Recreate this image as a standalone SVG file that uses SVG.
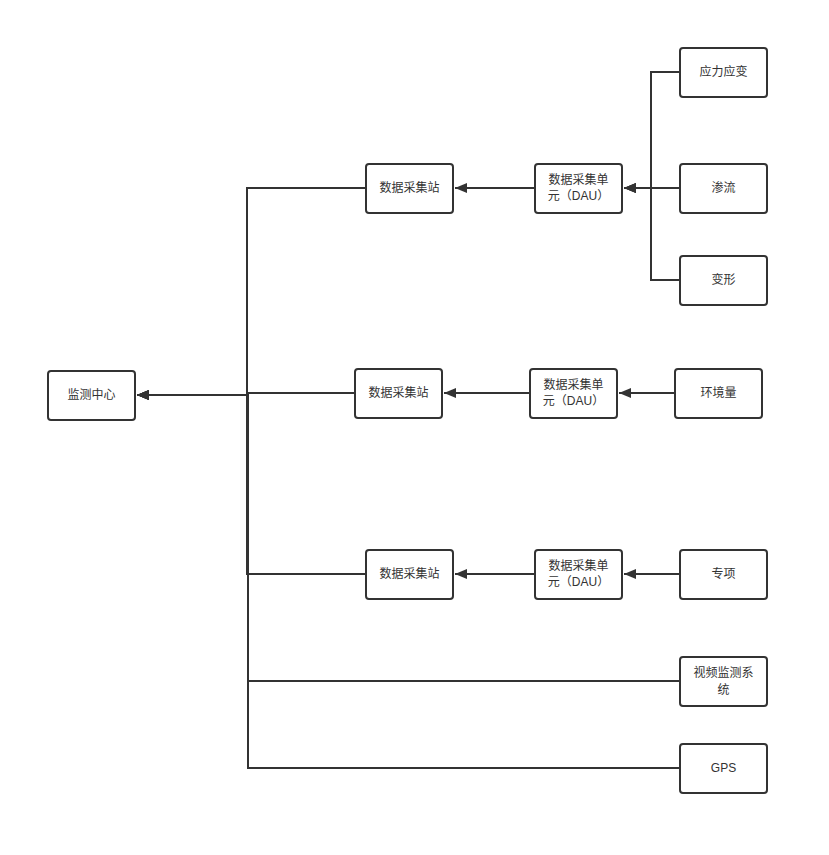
<svg xmlns="http://www.w3.org/2000/svg" width="829" height="855" viewBox="0 0 829 855">
<style>
.box{fill:#fff;stroke:#333;stroke-width:2}
.t{font-family:"Liberation Sans","Noto Sans CJK SC",sans-serif;font-size:12px;fill:#333;text-anchor:middle}
.c{fill:none;stroke:#333;stroke-width:2}
</style>
<defs>
<marker id="arr" markerWidth="12" markerHeight="10" refX="12" refY="5" orient="auto" markerUnits="userSpaceOnUse">
<path d="M0,0 L12,5 L0,10 Z" fill="#333"/>
</marker>
</defs>
<rect width="829" height="855" fill="#fff"/>
<g id="connectors">
<path class="c" d="M680,72 H651 V188 H624" marker-end="url(#arr)"/>
<path class="c" d="M680,188 H624" marker-end="url(#arr)"/>
<path class="c" d="M680,280 H651 V188 H624" marker-end="url(#arr)"/>
<path class="c" d="M535,188 H455" marker-end="url(#arr)"/>
<path class="c" d="M366,188 H247 V395 H137" marker-end="url(#arr)"/>
<path class="c" d="M675,393 H619" marker-end="url(#arr)"/>
<path class="c" d="M530,393 H444" marker-end="url(#arr)"/>
<path class="c" d="M355,393 H247 V395 H137" marker-end="url(#arr)"/>
<path class="c" d="M680,574 H624" marker-end="url(#arr)"/>
<path class="c" d="M535,574 H455" marker-end="url(#arr)"/>
<path class="c" d="M366,574 H247 V395 H137" marker-end="url(#arr)"/>
<path class="c" d="M680,681 H248 V395 H137" marker-end="url(#arr)"/>
<path class="c" d="M680,768 H248 V395 H137" marker-end="url(#arr)"/>
</g>
<g id="center"><rect class="box" x="48" y="371" width="87" height="49" rx="3"/><text class="t" x="91.5" y="399">监测中心</text></g>
<g id="station1"><rect class="box" x="366" y="164" width="87" height="49" rx="3"/><text class="t" x="409.5" y="192">数据采集站</text></g>
<g id="dau1"><rect class="box" x="535" y="164" width="87" height="49" rx="3"/><text class="t" x="578.5" y="184">数据采集单</text><text class="t" x="578.5" y="200">元（DAU）</text></g>
<g id="stress"><rect class="box" x="680" y="48" width="87" height="49" rx="3"/><text class="t" x="723.5" y="76">应力应变</text></g>
<g id="seepage"><rect class="box" x="680" y="164" width="87" height="49" rx="3"/><text class="t" x="723.5" y="192">渗流</text></g>
<g id="deform"><rect class="box" x="680" y="256" width="87" height="49" rx="3"/><text class="t" x="723.5" y="284">变形</text></g>
<g id="station2"><rect class="box" x="355" y="369" width="87" height="49" rx="3"/><text class="t" x="398.5" y="397">数据采集站</text></g>
<g id="dau2"><rect class="box" x="530" y="369" width="87" height="49" rx="3"/><text class="t" x="573.5" y="389">数据采集单</text><text class="t" x="573.5" y="405">元（DAU）</text></g>
<g id="env"><rect class="box" x="675" y="369" width="87" height="49" rx="3"/><text class="t" x="718.5" y="397">环境量</text></g>
<g id="station3"><rect class="box" x="366" y="550" width="87" height="49" rx="3"/><text class="t" x="409.5" y="578">数据采集站</text></g>
<g id="dau3"><rect class="box" x="535" y="550" width="87" height="49" rx="3"/><text class="t" x="578.5" y="570">数据采集单</text><text class="t" x="578.5" y="586">元（DAU）</text></g>
<g id="special"><rect class="box" x="680" y="550" width="87" height="49" rx="3"/><text class="t" x="723.5" y="578">专项</text></g>
<g id="video"><rect class="box" x="680" y="657" width="87" height="49" rx="3"/><text class="t" x="723.5" y="677">视频监测系</text><text class="t" x="723.5" y="694">统</text></g>
<g id="gps"><rect class="box" x="680" y="744" width="87" height="49" rx="3"/><text class="t" x="723.5" y="772">GPS</text></g>
</svg>
